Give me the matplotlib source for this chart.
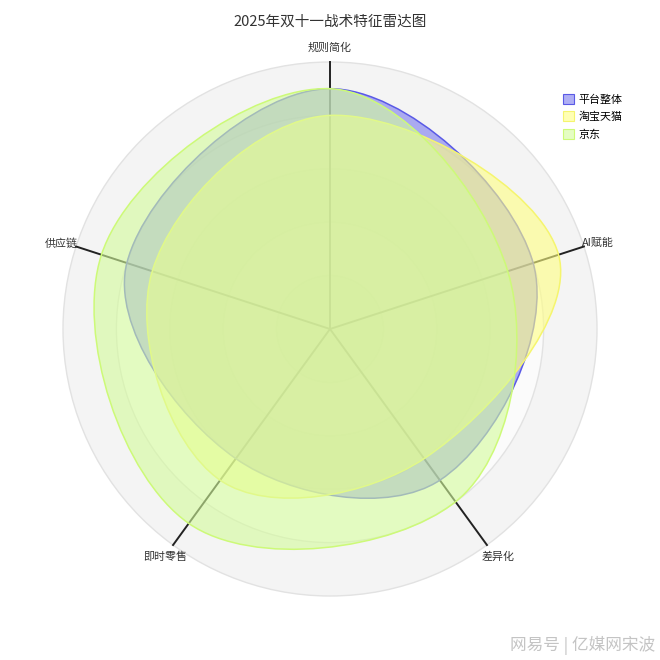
import numpy as np
import matplotlib
matplotlib.use('Agg')
from matplotlib import pyplot as plt
from matplotlib.path import Path
from matplotlib.patches import PathPatch, Patch, Circle
from matplotlib.colors import to_rgba

plt.rcParams['font.family'] = ['Noto Sans CJK SC', 'DejaVu Sans']

title = '2025年双十一战术特征雷达图'
indicators = ['规则简化', 'AI赋能', '差异化', '即时零售', '供应链']  # clockwise from top
vmax = 100
names = ['平台整体', '淘宝天猫', '京东']
platform = [90, 80, 70, 60, 80]
tmall = [80, 90, 60, 70, 70]
jd = [90, 70, 80, 90, 90]
series = [platform, tmall, jd]
fill_colors = ['#7a7aee', '#ffff82', '#d4fc9b']
line_colors = ['#5a5ae6', '#f5f56e', '#cdfa78']
watermark = '网易号 | 亿媒网宋波'

SMOOTH = 0.37   # bezier smoothing like echarts
PX = 2.67       # pixels per value unit
ALPHA = 0.6

angles = np.deg2rad(90 - 72 * np.arange(len(indicators)))


def smooth_path(vals):
    pts = np.array([[v * np.cos(a), v * np.sin(a)] for v, a in zip(vals, angles)])
    n = len(pts)
    cps = []
    for i in range(n):
        p, prev, nxt = pts[i], pts[i - 1], pts[(i + 1) % n]
        v = (nxt - prev) * SMOOTH
        d0 = np.hypot(*(p - prev))
        d1 = np.hypot(*(p - nxt))
        s = d0 + d1
        cps.append((p - v * d0 / s, p + v * d1 / s))
    verts = [pts[0]]
    codes = [Path.MOVETO]
    for i in range(n):
        j = (i + 1) % n
        verts += [cps[i][1], cps[j][0], pts[j]]
        codes += [Path.CURVE4] * 3
    verts.append(pts[0])
    codes.append(Path.CLOSEPOLY)
    return Path(verts, codes)


fig = plt.figure(figsize=(6.6, 6.6), dpi=100)
ax = fig.add_axes([0, 0, 1, 1])
ax.set_xlim(-330 / PX, 330 / PX)
ax.set_ylim(-331 / PX, 329 / PX)
ax.axis('off')

# split areas + split lines
for k in range(5, 0, -1):
    fc = '#f4f4f4' if k % 2 == 1 else '#fbfbfb'
    ax.add_patch(Circle((0, 0), vmax * k / 5, facecolor=fc, edgecolor='#e2e2e2', lw=1, zorder=0))

# axis lines
for a in angles:
    ax.plot([0, vmax * np.cos(a)], [0, vmax * np.sin(a)], color='#222222', lw=1.4, zorder=1)

handles = []
for i, (vals, fc, lc, nm) in enumerate(zip(series, fill_colors, line_colors, names)):
    ax.add_patch(PathPatch(smooth_path(vals), facecolor=to_rgba(fc, ALPHA),
                           edgecolor='none', zorder=2 + 2 * i))
    ax.add_patch(PathPatch(smooth_path(vals), facecolor='none',
                           edgecolor=lc, lw=1.1, zorder=3 + 2 * i))
    handles.append(Patch(facecolor=to_rgba(fc, ALPHA), edgecolor=lc, lw=0.8, label=nm))

# indicator names
offsets = [((0, 14.5), 'center'), ((-2, 3.5), 'left'), ((11, -12), 'center'),
           ((-8, -12), 'center'), ((2, 3.5), 'right')]
for name, a, (off, ha) in zip(indicators, angles, offsets):
    ax.annotate(name, (vmax * np.cos(a), vmax * np.sin(a)), xytext=off,
                textcoords='offset pixels', ha=ha, va='center', fontsize=7.9, color='#333333')

ax.legend(handles=handles, loc='upper left', bbox_to_anchor=(563 / 660, 1 - 94 / 660),
          frameon=False, fontsize=7.9, handlelength=1.0, handleheight=1.0,
          handletextpad=0.4, labelspacing=0.62, borderpad=0, borderaxespad=0)

fig.text(0.5, 1 - 22 / 660, title, ha='center', va='center', fontsize=10.5, color='#333333')
fig.text(655 / 660, 1 - 645 / 660, watermark, ha='right', va='center', fontsize=12, color='#c4c4c4')

fig.savefig('out.png', dpi=100)
